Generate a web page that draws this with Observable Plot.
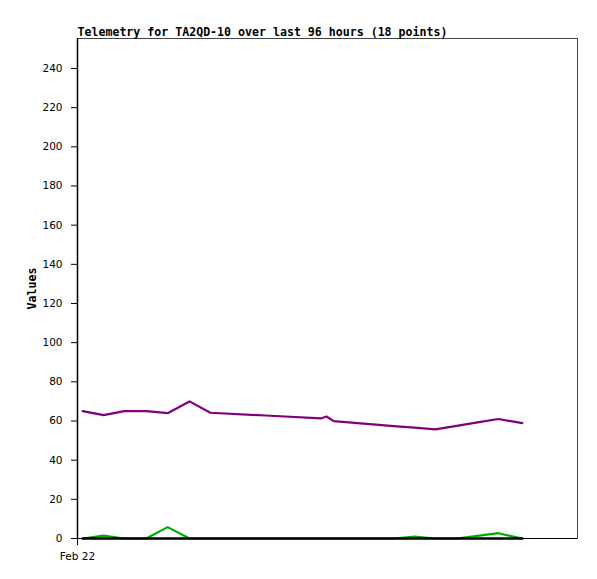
<!DOCTYPE html>
<html>
<head>
<meta charset="utf-8">
<script src="https://cdn.jsdelivr.net/npm/d3@7"></script>
<script src="https://cdn.jsdelivr.net/npm/@observablehq/plot@0.6"></script>
<style>
  html, body { margin: 0; padding: 0; background: #fff; }
  #chart svg { display: block; }
</style>
</head>
<body>
<div id="chart"></div>
<script>
// Hours since Feb 22 00:00
const hours  = [1.0, 5.0, 9.0, 13.2, 17.3, 21.5, 25.5, 36.1, 46.7, 47.8, 49.2, 60.7, 64.7, 68.7, 72.8, 76.8, 80.8, 85.4];
const purpleValues = [65, 63, 65, 65, 64, 70, 64.2, 62.8, 61.3, 62.3, 59.9, 57.4, 56.6, 55.7, 57.5, 59.3, 61, 58.9];
const greenValues  = [0, 1.5, 0, 0, 5.8, 0, 0, 0, 0, 0, 0, 0, 1, 0, 0, 1.3, 2.7, 0];
const blackValues  = [0, 0, 0, 0, 0, 0, 0, 0, 0, 0, 0, 0, 0, 0, 0, 0, 0, 0];
const yTicks = [0, 20, 40, 60, 80, 100, 120, 140, 160, 180, 200, 220, 240];
const xTicks = [0];
const xTickLabels = ["Feb 22"];
const title = "Telemetry for TA2QD-10 over last 96 hours (18 points)";
const yLabel = "Values";

const rows = (vals) => hours.map((h, i) => ({h, v: vals[i]}));

const mono = "'DejaVu Sans Mono', 'Liberation Mono', monospace";

const chart = Plot.plot({
  width: 597,
  height: 579,
  marginLeft: 77,
  marginRight: 20,
  marginTop: 38,
  marginBottom: 41,
  style: {fontFamily: "'DejaVu Sans', sans-serif", fontSize: "10px", color: "#000", background: "#fff"},
  x: {type: "linear", domain: [0, 96]},
  y: {domain: [0, 255.3]},
  marks: [
    Plot.frame({stroke: "#444", strokeWidth: 1}),
    Plot.axisY({ticks: yTicks, tickSize: 6, tickPadding: 9, label: null, fontSize: 10.5}),
    Plot.axisX({ticks: xTicks, tickFormat: (d, i) => xTickLabels[i], tickSize: 7, tickPadding: 7, label: null, fontSize: 10.5}),
    Plot.ruleX([0], {stroke: "#000", strokeWidth: 1.5}),
    Plot.ruleY([0], {stroke: "#000", strokeWidth: 1}),
    Plot.line(rows(purpleValues), {x: "h", y: "v", stroke: "#7f007f", strokeWidth: 2.2, curve: "linear"}),
    Plot.line(rows(greenValues), {x: "h", y: "v", stroke: "#00aa00", strokeWidth: 2.2, curve: "linear"}),
    Plot.line(rows(blackValues), {x: "h", y: "v", stroke: "#000", strokeWidth: 2.5, curve: "linear"}),
    Plot.text([title], {frameAnchor: "top-left", dy: -3, lineAnchor: "bottom", textAnchor: "start",
      fontWeight: "bold", fontFamily: mono, fontSize: 11.6, fill: "#000"}),
    Plot.text([yLabel], {frameAnchor: "left", dx: -45, rotate: -90, textAnchor: "middle", lineAnchor: "middle",
      fontWeight: "bold", fontFamily: mono, fontSize: 11.6, fill: "#000"})
  ]
});
document.getElementById("chart").appendChild(chart);
</script>
</body>
</html>
